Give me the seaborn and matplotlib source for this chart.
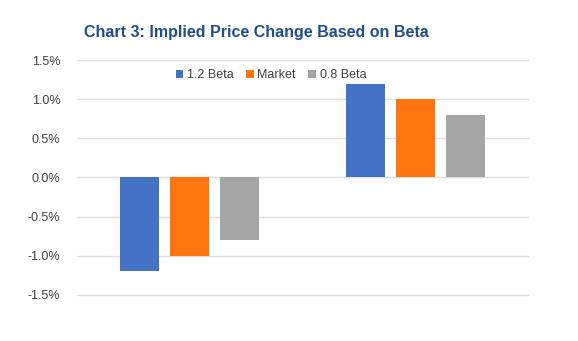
import matplotlib
matplotlib.use("Agg")
import matplotlib.pyplot as plt
from matplotlib.ticker import FuncFormatter
import seaborn as sns
import pandas as pd

# Implied price change for a +/-1% market move
scenarios = ["Market Down", "Market Up"]
series = ["1.2 Beta", "Market", "0.8 Beta"]
beta_12 = [-1.2, 1.2]
market = [-1.0, 1.0]
beta_08 = [-0.8, 0.8]
colors = ["#4472C4", "#FF7510", "#A5A5A5"]
y_ticks = [-1.5, -1.0, -0.5, 0.0, 0.5, 1.0, 1.5]

df = pd.DataFrame({
    "scenario": scenarios * 3,
    "series": [s for s in series for _ in scenarios],
    "change": beta_12 + market + beta_08,
})

sns.set_theme(style="white")
plt.rcParams["font.family"] = ["Liberation Sans", "DejaVu Sans"]

fig = plt.figure(figsize=(5.78, 3.41), dpi=100)
ax = fig.add_axes([0.1332, 0.135, 0.7803, 0.689])

sns.barplot(data=df, x="scenario", y="change", hue="series",
            hue_order=series, palette=colors, width=0.665, gap=0.22,
            saturation=1, ax=ax, errorbar=None, edgecolor="none")

ax.set_ylim(-1.5, 1.5)
ax.set_yticks(y_ticks)
ax.yaxis.set_major_formatter(FuncFormatter(lambda v, _: f"{v:.1f}%"))
ax.tick_params(axis="y", labelsize=9, labelcolor="#404040", length=0, pad=12)
ax.set_xticks([])
ax.set_xlabel("")
ax.set_ylabel("")
ax.grid(axis="y", color="#E0E0E0", linewidth=1)
for gl in ax.get_ygridlines():
    gl.set_clip_on(False)
ax.set_axisbelow(True)
for sp in ax.spines.values():
    sp.set_visible(False)

ax.legend(loc="center", bbox_to_anchor=(0.43, 0.936), ncol=3,
          frameon=False, fontsize=9, handlelength=0.6, handleheight=0.6,
          handletextpad=0.3, columnspacing=1.0, labelcolor="#404040")

fig.text(256 / 578, 1 - 33 / 341, "Chart 3: Implied Price Change Based on Beta",
         ha="center", va="center", fontsize=11.5, fontweight="bold",
         color="#1F4E8C")

fig.savefig("out.png", dpi=100, facecolor="white")
